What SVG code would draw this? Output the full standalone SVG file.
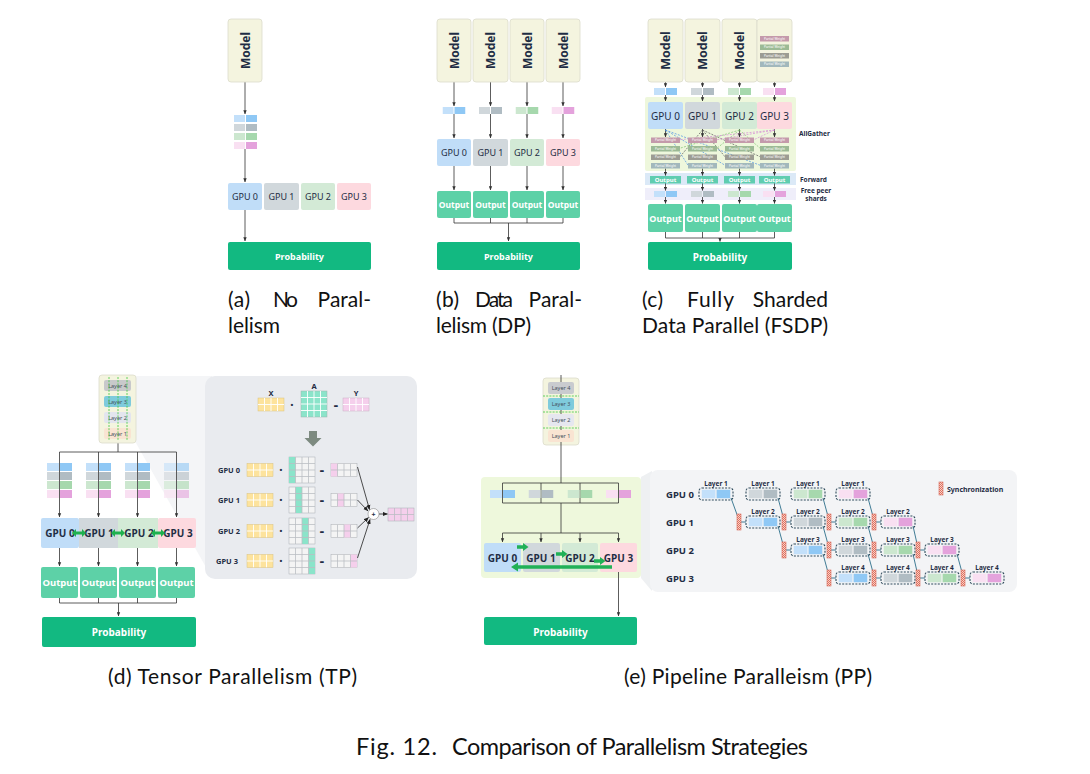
<svg xmlns="http://www.w3.org/2000/svg" xmlns:xlink="http://www.w3.org/1999/xlink" width="1090" height="774" viewBox="0 0 1090 774">
<style>
.model{fill:#f4f4df;stroke:#dcdccb;stroke-width:0.8}
.mt{font-family:"Noto Sans",sans-serif;font-weight:bold;font-size:12px;fill:#1f2d44}
.g0{fill:#c0ddf8}.g1{fill:#d1d8dc}.g2{fill:#d3ead6}.g3{fill:#fdd9df}
.gt{font-family:"Noto Sans",sans-serif;font-size:9px;fill:#1f2d44}
.gtb{font-family:"Noto Sans",sans-serif;font-size:10px;font-weight:bold;fill:#1f2d44}
.out{fill:#5dd1a7}
.ot{font-family:"Noto Sans",sans-serif;font-weight:bold;font-size:8.5px;fill:#fff}
.prob{fill:#12b981}
.pt{font-family:"Noto Sans",sans-serif;font-weight:bold;font-size:9px;fill:#fff}
.ln{stroke:#333;stroke-width:0.8;fill:none}
.lbl{font-family:"Noto Sans",sans-serif;font-weight:bold;font-size:6.5px;fill:#1f2d44}
.lay{font-family:"Noto Sans",sans-serif;font-size:5.5px;fill:#44505c}
.mx{font-family:"Noto Sans",sans-serif;font-weight:bold;font-size:7.5px;fill:#1f2d44}
.sbox{fill:none;stroke:#2f4b5c;stroke-width:1.1;stroke-dasharray:2 1.3}
.sl{font-family:"Noto Sans",sans-serif;font-weight:bold;font-size:6.5px;fill:#1f2d44}
.sg{font-family:"Noto Sans",sans-serif;font-weight:bold;font-size:9.5px;fill:#1f2d44}
.sync{fill:url(#hatch);stroke:#d86a5a;stroke-width:0.6}
.dl{stroke:#2c6e8a;stroke-width:0.9;fill:none}
.cap{font-family:Lato,"Liberation Sans",sans-serif;font-size:21px;fill:#111}
.fig{font-family:Lato,"Liberation Sans",sans-serif;font-size:23.5px;fill:#111}
.pw{font-family:"Noto Sans",sans-serif;font-size:3.2px;fill:#fff}
.ad{fill:none;stroke-width:0.7;stroke-dasharray:2 1.3}
</style>
<defs>
<marker id="ah" viewBox="0 0 6 6" refX="5.5" refY="3" markerWidth="4" markerHeight="4" markerUnits="userSpaceOnUse" orient="auto"><path d="M0 0.5L6 3L0 5.5z" fill="#333"/></marker>
<marker id="ah2" viewBox="0 0 6 6" refX="5.5" refY="3" markerWidth="5" markerHeight="5" markerUnits="userSpaceOnUse" orient="auto"><path d="M0 0.5L6 3L0 5.5z" fill="#222"/></marker>
<pattern id="hatch" width="2" height="2" patternUnits="userSpaceOnUse"><rect width="2" height="2" fill="#f8d2c9"/><rect width="1" height="1" fill="#e0715f"/><rect x="1" y="1" width="1" height="1" fill="#e0715f"/></pattern>
<symbol id="p0" viewBox="0 0 24 8" preserveAspectRatio="none"><rect width="11.5" height="8" fill="#c3e0fa"/><rect x="12.5" width="11.5" height="8" fill="#8fc8f5"/></symbol>
<symbol id="p1" viewBox="0 0 24 8" preserveAspectRatio="none"><rect width="11.5" height="8" fill="#d0d7db"/><rect x="12.5" width="11.5" height="8" fill="#b0bcc3"/></symbol>
<symbol id="p2" viewBox="0 0 24 8" preserveAspectRatio="none"><rect width="11.5" height="8" fill="#cce7cf"/><rect x="12.5" width="11.5" height="8" fill="#a6d8ad"/></symbol>
<symbol id="p3" viewBox="0 0 24 8" preserveAspectRatio="none"><rect width="11.5" height="8" fill="#f9e0f2"/><rect x="12.5" width="11.5" height="8" fill="#e4a2dc"/></symbol>
<symbol id="g42w" viewBox="0 0 4 2" preserveAspectRatio="none"><path d="M1 0V2M2 0V2M3 0V2M0 1H4" stroke="#fff" stroke-width="0.14" fill="none"/></symbol>
<symbol id="g44w" viewBox="0 0 4 4" preserveAspectRatio="none"><path d="M1 0V4M2 0V4M3 0V4M0 1H4M0 2H4M0 3H4" stroke="#fff" stroke-width="0.14" fill="none"/></symbol>
<symbol id="g42g" viewBox="0 0 4 2" preserveAspectRatio="none"><path d="M1 0V2M2 0V2M3 0V2M0 1H4" stroke="#b9bdc2" stroke-width="0.12" fill="none"/></symbol>
<symbol id="g44g" viewBox="0 0 4 4" preserveAspectRatio="none"><path d="M1 0V4M2 0V4M3 0V4M0 1H4M0 2H4M0 3H4" stroke="#b9bdc2" stroke-width="0.12" fill="none"/></symbol>
<g id="pw">
<rect x="0" y="0" width="29" height="5.5" fill="#c49aab"/><text class="pw" x="14.5" y="3.9" text-anchor="middle">Partial Weight</text>
<rect x="0" y="8.5" width="29" height="5.5" fill="#9cba95"/><text class="pw" x="14.5" y="12.4" text-anchor="middle">Partial Weight</text>
<rect x="0" y="17" width="29" height="5.5" fill="#9c9c93"/><text class="pw" x="14.5" y="20.9" text-anchor="middle">Partial Weight</text>
<rect x="0" y="25.5" width="29" height="5.5" fill="#a2b8bc"/><text class="pw" x="14.5" y="29.4" text-anchor="middle">Partial Weight</text>
</g>
</defs>
<rect width="1090" height="774" fill="#fff"/>

<!-- ===== (a) No Parallelism ===== -->
<g id="a-connectors">
<path class="ln" d="M245 82V114" marker-end="url(#ah)"/>
<path class="ln" d="M245 149V182" marker-end="url(#ah)"/>
<path class="ln" d="M245 210V241" marker-end="url(#ah)"/>
</g>
<g id="a-model"><rect class="model" x="228" y="19" width="34" height="63" rx="3"/><text class="mt" transform="translate(245,50.5) rotate(-90)" text-anchor="middle" dominant-baseline="central">Model</text></g>
<g id="a-shards">
<use href="#p0" x="234" y="115" width="23" height="7"/>
<use href="#p1" x="234" y="124" width="23" height="7"/>
<use href="#p2" x="234" y="133" width="23" height="7"/>
<use href="#p3" x="234" y="142" width="23" height="7"/>
</g>
<g id="a-gpu0"><rect class="g0" x="228" y="183" width="34" height="27" rx="2"/><text class="gt" x="245" y="196.5" text-anchor="middle" dominant-baseline="central">GPU 0</text></g>
<g id="a-gpu1"><rect class="g1" x="264" y="183" width="35" height="27" rx="2"/><text class="gt" x="281.5" y="196.5" text-anchor="middle" dominant-baseline="central">GPU 1</text></g>
<g id="a-gpu2"><rect class="g2" x="301" y="183" width="34" height="27" rx="2"/><text class="gt" x="318" y="196.5" text-anchor="middle" dominant-baseline="central">GPU 2</text></g>
<g id="a-gpu3"><rect class="g3" x="337" y="183" width="34" height="27" rx="2"/><text class="gt" x="354" y="196.5" text-anchor="middle" dominant-baseline="central">GPU 3</text></g>
<g id="a-prob"><rect class="prob" x="228" y="242" width="143" height="28" rx="2"/><text class="pt" x="299.5" y="256.5" text-anchor="middle" dominant-baseline="central">Probability</text></g>

<!-- ===== (b) Data Parallelism ===== -->
<g id="b-connectors">
<path class="ln" d="M454 82V106" marker-end="url(#ah)"/><path class="ln" d="M490.5 82V106" marker-end="url(#ah)"/><path class="ln" d="M527 82V106" marker-end="url(#ah)"/><path class="ln" d="M563 82V106" marker-end="url(#ah)"/>
<path class="ln" d="M454 114V138" marker-end="url(#ah)"/><path class="ln" d="M490.5 114V138" marker-end="url(#ah)"/><path class="ln" d="M527 114V138" marker-end="url(#ah)"/><path class="ln" d="M563 114V138" marker-end="url(#ah)"/>
<path class="ln" d="M454 166V190" marker-end="url(#ah)"/><path class="ln" d="M490.5 166V190" marker-end="url(#ah)"/><path class="ln" d="M527 166V190" marker-end="url(#ah)"/><path class="ln" d="M563 166V190" marker-end="url(#ah)"/>
<path class="ln" d="M454 218V223M490.5 218V223M527 218V223M563 218V223M454 223H563"/>
<path class="ln" d="M508.5 223V241" marker-end="url(#ah)"/>
</g>
<g id="b-model0"><rect class="model" x="437" y="19" width="34" height="63" rx="3"/><text class="mt" transform="translate(454,50.5) rotate(-90)" text-anchor="middle" dominant-baseline="central">Model</text></g>
<g id="b-model1"><rect class="model" x="473" y="19" width="35" height="63" rx="3"/><text class="mt" transform="translate(490.5,50.5) rotate(-90)" text-anchor="middle" dominant-baseline="central">Model</text></g>
<g id="b-model2"><rect class="model" x="510" y="19" width="34" height="63" rx="3"/><text class="mt" transform="translate(527,50.5) rotate(-90)" text-anchor="middle" dominant-baseline="central">Model</text></g>
<g id="b-model3"><rect class="model" x="546" y="19" width="34" height="63" rx="3"/><text class="mt" transform="translate(563,50.5) rotate(-90)" text-anchor="middle" dominant-baseline="central">Model</text></g>
<g id="b-shards">
<use href="#p0" x="442.5" y="107" width="23" height="7"/>
<use href="#p1" x="479" y="107" width="23" height="7"/>
<use href="#p2" x="515.5" y="107" width="23" height="7"/>
<use href="#p3" x="551.5" y="107" width="23" height="7"/>
</g>
<g id="b-gpu0"><rect class="g0" x="437" y="139" width="34" height="27" rx="2"/><text class="gt" x="454" y="152.5" text-anchor="middle" dominant-baseline="central">GPU 0</text></g>
<g id="b-gpu1"><rect class="g1" x="473" y="139" width="35" height="27" rx="2"/><text class="gt" x="490.5" y="152.5" text-anchor="middle" dominant-baseline="central">GPU 1</text></g>
<g id="b-gpu2"><rect class="g2" x="510" y="139" width="34" height="27" rx="2"/><text class="gt" x="527" y="152.5" text-anchor="middle" dominant-baseline="central">GPU 2</text></g>
<g id="b-gpu3"><rect class="g3" x="546" y="139" width="34" height="27" rx="2"/><text class="gt" x="563" y="152.5" text-anchor="middle" dominant-baseline="central">GPU 3</text></g>
<g id="b-out0"><rect class="out" x="437" y="191" width="34" height="27" rx="2"/><text class="ot" x="454" y="204.5" text-anchor="middle" dominant-baseline="central">Output</text></g>
<g id="b-out1"><rect class="out" x="473" y="191" width="35" height="27" rx="2"/><text class="ot" x="490.5" y="204.5" text-anchor="middle" dominant-baseline="central">Output</text></g>
<g id="b-out2"><rect class="out" x="510" y="191" width="34" height="27" rx="2"/><text class="ot" x="527" y="204.5" text-anchor="middle" dominant-baseline="central">Output</text></g>
<g id="b-out3"><rect class="out" x="546" y="191" width="34" height="27" rx="2"/><text class="ot" x="563" y="204.5" text-anchor="middle" dominant-baseline="central">Output</text></g>
<g id="b-prob"><rect class="prob" x="437" y="242" width="143" height="28" rx="2"/><text class="pt" x="508.5" y="256.5" text-anchor="middle" dominant-baseline="central">Probability</text></g>

<!-- ===== (c) FSDP ===== -->
<g id="c-bands">
<rect x="645" y="97" width="151" height="74" rx="2" fill="#eef7dc"/>
<rect x="645" y="173" width="151" height="12" fill="#dbe9f7"/>
<rect x="645" y="188" width="151" height="12" fill="#efeefa"/>
</g>
<g id="c-connectors">
<path class="ln" d="M665.5 82V87" marker-end="url(#ah)"/><path class="ln" d="M702.5 82V87" marker-end="url(#ah)"/><path class="ln" d="M739.5 82V87" marker-end="url(#ah)"/><path class="ln" d="M774.5 82V87" marker-end="url(#ah)"/>
<path class="ln" d="M665.5 95V101" marker-end="url(#ah)"/><path class="ln" d="M702.5 95V101" marker-end="url(#ah)"/><path class="ln" d="M739.5 95V101" marker-end="url(#ah)"/><path class="ln" d="M774.5 95V101" marker-end="url(#ah)"/>
<path class="ln" d="M665.5 129V137" marker-end="url(#ah)"/><path class="ln" d="M702.5 129V137" marker-end="url(#ah)"/><path class="ln" d="M739.5 129V137" marker-end="url(#ah)"/><path class="ln" d="M774.5 129V137" marker-end="url(#ah)"/>
<path class="ln" d="M665.5 168.5V175.5" marker-end="url(#ah)"/><path class="ln" d="M702.5 168.5V175.5" marker-end="url(#ah)"/><path class="ln" d="M739.5 168.5V175.5" marker-end="url(#ah)"/><path class="ln" d="M774.5 168.5V175.5" marker-end="url(#ah)"/>
<path class="ln" d="M665.5 183V190.5" marker-end="url(#ah)"/><path class="ln" d="M702.5 183V190.5" marker-end="url(#ah)"/><path class="ln" d="M739.5 183V190.5" marker-end="url(#ah)"/><path class="ln" d="M774.5 183V190.5" marker-end="url(#ah)"/>
<path class="ln" d="M665.5 197V203.5" marker-end="url(#ah)"/><path class="ln" d="M702.5 197V203.5" marker-end="url(#ah)"/><path class="ln" d="M739.5 197V203.5" marker-end="url(#ah)"/><path class="ln" d="M774.5 197V203.5" marker-end="url(#ah)"/>
<path class="ln" d="M665.5 232V238M702.5 232V238M739.5 232V238M774.5 232V238M665.5 238H774.5"/>
<path class="ln" d="M720 238V241.5" marker-end="url(#ah)"/>
<path class="ad" stroke="#4a90e2" d="M665.5 130L688 165.2M665.5 130L725 165.2M665.5 130L760 165.2"/>
<path class="ad" stroke="#555" d="M702.5 130L680 156.7M702.5 130L725 156.7M702.5 130L760 156.7"/>
<path class="ad" stroke="#7cc36e" d="M739.5 130L680 148.2M739.5 130L717 148.2M739.5 130L760 148.2"/>
<path class="ad" stroke="#d58ad6" d="M774.5 130L680 139.7M774.5 130L717 139.7M774.5 130L754 139.7"/>
</g>
<g id="c-model0"><rect class="model" x="648" y="19" width="35" height="63" rx="3"/><text class="mt" style="font-size:12.5px" transform="translate(665.5,50.5) rotate(-90)" text-anchor="middle" dominant-baseline="central">Model</text></g>
<g id="c-model1"><rect class="model" x="685" y="19" width="35" height="63" rx="3"/><text class="mt" style="font-size:12.5px" transform="translate(702.5,50.5) rotate(-90)" text-anchor="middle" dominant-baseline="central">Model</text></g>
<g id="c-model2"><rect class="model" x="722" y="19" width="35" height="63" rx="3"/><text class="mt" style="font-size:12.5px" transform="translate(739.5,50.5) rotate(-90)" text-anchor="middle" dominant-baseline="central">Model</text></g>
<g id="c-model3"><rect class="model" x="757" y="19" width="35" height="63" rx="3"/><use href="#pw" x="760" y="36"/></g>
<g id="c-shards">
<use href="#p0" x="654" y="88" width="23" height="7"/>
<use href="#p1" x="691" y="88" width="23" height="7"/>
<use href="#p2" x="728" y="88" width="23" height="7"/>
<use href="#p3" x="763" y="88" width="23" height="7"/>
</g>
<g id="c-gpu0"><rect class="g0" x="648" y="102" width="35" height="27" rx="2"/><text class="gt" style="font-size:10px" x="665.5" y="115.5" text-anchor="middle" dominant-baseline="central">GPU 0</text></g>
<g id="c-gpu1"><rect class="g1" x="685" y="102" width="35" height="27" rx="2"/><text class="gt" style="font-size:10px" x="702.5" y="115.5" text-anchor="middle" dominant-baseline="central">GPU 1</text></g>
<g id="c-gpu2"><rect class="g2" x="722" y="102" width="35" height="27" rx="2"/><text class="gt" style="font-size:10px" x="739.5" y="115.5" text-anchor="middle" dominant-baseline="central">GPU 2</text></g>
<g id="c-gpu3"><rect class="g3" x="757" y="102" width="35" height="27" rx="2"/><text class="gt" style="font-size:10px" x="774.5" y="115.5" text-anchor="middle" dominant-baseline="central">GPU 3</text></g>
<g id="c-weights">
<use href="#pw" x="651" y="137.5"/><use href="#pw" x="688" y="137.5"/><use href="#pw" x="725" y="137.5"/><use href="#pw" x="760" y="137.5"/>
</g>
<text class="lbl" x="799" y="136">AllGather</text>
<g id="c-fwd">
<rect x="650" y="176" width="31" height="7.5" fill="#5fcdb0"/><text class="ot" style="font-size:6px" x="665.5" y="180" text-anchor="middle" dominant-baseline="central">Output</text>
<rect x="687" y="176" width="31" height="7.5" fill="#5fcdb0"/><text class="ot" style="font-size:6px" x="702.5" y="180" text-anchor="middle" dominant-baseline="central">Output</text>
<rect x="724" y="176" width="31" height="7.5" fill="#5fcdb0"/><text class="ot" style="font-size:6px" x="739.5" y="180" text-anchor="middle" dominant-baseline="central">Output</text>
<rect x="759" y="176" width="31" height="7.5" fill="#5fcdb0"/><text class="ot" style="font-size:6px" x="774.5" y="180" text-anchor="middle" dominant-baseline="central">Output</text>
</g>
<text class="lbl" x="800" y="182">Forward</text>
<g id="c-free">
<use href="#p0" x="654" y="191" width="23" height="6"/>
<use href="#p1" x="691" y="191" width="23" height="6"/>
<use href="#p2" x="728" y="191" width="23" height="6"/>
<use href="#p3" x="763" y="191" width="23" height="6"/>
</g>
<text class="lbl" x="816" y="193" text-anchor="middle">Free peer</text>
<text class="lbl" x="816" y="201" text-anchor="middle">shards</text>
<g id="c-out0"><rect class="out" x="648" y="204" width="35" height="28" rx="2"/><text class="ot" style="font-size:9px" x="665.5" y="218" text-anchor="middle" dominant-baseline="central">Output</text></g>
<g id="c-out1"><rect class="out" x="685" y="204" width="35" height="28" rx="2"/><text class="ot" style="font-size:9px" x="702.5" y="218" text-anchor="middle" dominant-baseline="central">Output</text></g>
<g id="c-out2"><rect class="out" x="722" y="204" width="35" height="28" rx="2"/><text class="ot" style="font-size:9px" x="739.5" y="218" text-anchor="middle" dominant-baseline="central">Output</text></g>
<g id="c-out3"><rect class="out" x="757" y="204" width="35" height="28" rx="2"/><text class="ot" style="font-size:9px" x="774.5" y="218" text-anchor="middle" dominant-baseline="central">Output</text></g>
<g id="c-prob"><rect class="prob" x="648" y="242" width="144" height="28" rx="2"/><text class="pt" style="font-size:10px" x="720" y="256.5" text-anchor="middle" dominant-baseline="central">Probability</text></g>

<!-- ===== (d) Tensor Parallelism ===== -->
<polygon points="136,376 212,376 212,578 136,443" fill="#f4f5f7"/>
<rect x="205" y="376" width="212" height="203" rx="10" fill="#e9ebef"/>
<g id="d-connectors">
<path class="ln" d="M118 443V452M59.5 452H176.5"/>
<path class="ln" d="M59.5 452V517" marker-end="url(#ah)"/><path class="ln" d="M98.5 452V517" marker-end="url(#ah)"/><path class="ln" d="M137.5 452V517" marker-end="url(#ah)"/><path class="ln" d="M176.5 452V517" marker-end="url(#ah)"/>
<path class="ln" d="M59.5 548V566" marker-end="url(#ah)"/><path class="ln" d="M98.5 548V566" marker-end="url(#ah)"/><path class="ln" d="M137.5 548V566" marker-end="url(#ah)"/><path class="ln" d="M176.5 548V566" marker-end="url(#ah)"/>
<path class="ln" d="M59.5 598V603M98.5 598V603M137.5 598V603M176.5 598V603M59.5 603H176.5"/>
<path class="ln" d="M118.5 603V616" marker-end="url(#ah)"/>
</g>
<g id="d-model">
<rect class="model" x="99" y="375" width="37" height="68" rx="3"/>
<rect x="104" y="380" width="27" height="11" rx="2" fill="#c8c9cb"/><text class="lay" x="117.5" y="385.5" text-anchor="middle" dominant-baseline="central">Layer 4</text>
<rect x="104" y="396" width="27" height="11" rx="2" fill="#7fcbdc"/><text class="lay" x="117.5" y="401.5" text-anchor="middle" dominant-baseline="central">Layer 3</text>
<rect x="104" y="412" width="27" height="11" rx="2" fill="#e3e5ee"/><text class="lay" x="117.5" y="417.5" text-anchor="middle" dominant-baseline="central">Layer 2</text>
<rect x="104" y="428" width="27" height="11" rx="2" fill="#f9e4d2"/><text class="lay" x="117.5" y="433.5" text-anchor="middle" dominant-baseline="central">Layer 1</text>
<path d="M109 377V441M118 377V441M127 377V441" stroke="#3ccc3c" stroke-width="0.8" stroke-dasharray="2 1.2"/>
</g>
<g id="d-shards0"><use href="#p0" x="47" y="463" width="25" height="8"/><use href="#p1" x="47" y="472" width="25" height="8"/><use href="#p2" x="47" y="481" width="25" height="8"/><use href="#p3" x="47" y="490" width="25" height="8"/></g>
<g id="d-shards1"><use href="#p0" x="86" y="463" width="25" height="8"/><use href="#p1" x="86" y="472" width="25" height="8"/><use href="#p2" x="86" y="481" width="25" height="8"/><use href="#p3" x="86" y="490" width="25" height="8"/></g>
<g id="d-shards2"><use href="#p0" x="125" y="463" width="25" height="8"/><use href="#p1" x="125" y="472" width="25" height="8"/><use href="#p2" x="125" y="481" width="25" height="8"/><use href="#p3" x="125" y="490" width="25" height="8"/></g>
<g id="d-shards3" opacity="0.6"><use href="#p0" x="164" y="463" width="25" height="8"/><use href="#p1" x="164" y="472" width="25" height="8"/><use href="#p2" x="164" y="481" width="25" height="8"/><use href="#p3" x="164" y="490" width="25" height="8"/></g>
<g id="d-gpu0"><rect class="g0" x="41" y="518" width="38" height="30" rx="2"/><text class="gtb" x="60" y="533" text-anchor="middle" dominant-baseline="central">GPU 0</text></g>
<g id="d-gpu1"><rect class="g1" x="79" y="518" width="39" height="30"/><text class="gtb" x="99" y="533" text-anchor="middle" dominant-baseline="central">GPU 1</text></g>
<g id="d-gpu2"><rect class="g2" x="118" y="518" width="40" height="30"/><text class="gtb" x="139" y="533" text-anchor="middle" dominant-baseline="central">GPU 2</text></g>
<g id="d-gpu3"><rect class="g3" x="158" y="518" width="38" height="30" rx="2"/><text class="gtb" x="178" y="533" text-anchor="middle" dominant-baseline="central">GPU 3</text></g>
<g id="d-links" fill="#1fb14f">
<path d="M72 533L76 529V531.5H82V529L86 533L82 537V534.5H76V537Z"/>
<path d="M111 533L115 529V531.5H121V529L125 533L121 537V534.5H115V537Z"/>
<path d="M151 533L155 529V531.5H161V529L165 533L161 537V534.5H155V537Z"/>
</g>
<g id="d-out0"><rect class="out" x="41" y="567" width="37" height="31" rx="2"/><text class="ot" style="font-size:9.5px" x="59.5" y="582.5" text-anchor="middle" dominant-baseline="central">Output</text></g>
<g id="d-out1"><rect class="out" x="80" y="567" width="37" height="31" rx="2"/><text class="ot" style="font-size:9.5px" x="98.5" y="582.5" text-anchor="middle" dominant-baseline="central">Output</text></g>
<g id="d-out2"><rect class="out" x="119" y="567" width="37" height="31" rx="2"/><text class="ot" style="font-size:9.5px" x="137.5" y="582.5" text-anchor="middle" dominant-baseline="central">Output</text></g>
<g id="d-out3"><rect class="out" x="158" y="567" width="37" height="31" rx="2"/><text class="ot" style="font-size:9.5px" x="176.5" y="582.5" text-anchor="middle" dominant-baseline="central">Output</text></g>
<g id="d-prob"><rect class="prob" x="42" y="617" width="154" height="30" rx="2"/><text class="pt" style="font-size:10px" x="119" y="632" text-anchor="middle" dominant-baseline="central">Probability</text></g>

<!-- TP detail -->
<g id="tp-equation">
<text class="mx" x="271" y="396" text-anchor="middle">X</text>
<text class="mx" x="314" y="389" text-anchor="middle">A</text>
<text class="mx" x="356" y="396" text-anchor="middle">Y</text>
<rect x="258" y="398" width="26" height="13" fill="#fde39d" stroke="#d9c27f" stroke-width="0.5"/><use href="#g42w" x="258" y="398" width="26" height="13"/>
<text class="mx" x="292" y="405" text-anchor="middle" dominant-baseline="central">•</text>
<rect x="301" y="391" width="26" height="26" fill="#8be4ca" stroke="#9fb3ad" stroke-width="0.5"/><use href="#g44w" x="301" y="391" width="26" height="26"/>
<text class="mx" x="336" y="405" text-anchor="middle" dominant-baseline="central">=</text>
<rect x="343" y="398" width="26" height="13" fill="#f5cfec" stroke="#c9b0c4" stroke-width="0.5"/><use href="#g42w" x="343" y="398" width="26" height="13"/>
<path d="M309 431H317V438H321.5L313 446.5L304.5 438H309Z" fill="#7d8a80"/>
</g>
<g id="tp-gpu0">
<text class="mx" x="218" y="470" dominant-baseline="central">GPU 0</text>
<rect x="247" y="463.5" width="26" height="13" fill="#fde39d" stroke="#d9c27f" stroke-width="0.5"/><use href="#g42w" x="247" y="463.5" width="26" height="13"/>
<text class="mx" x="281" y="470" text-anchor="middle" dominant-baseline="central">•</text>
<rect x="289" y="457" width="26" height="26" fill="#f4f4f4" stroke="#a9adb2" stroke-width="0.5"/><rect x="289" y="457" width="6.5" height="26" fill="#8be4ca"/><use href="#g44g" x="289" y="457" width="26" height="26"/>
<text class="mx" x="322" y="470" text-anchor="middle" dominant-baseline="central">=</text>
<rect x="331" y="463.5" width="26" height="13" fill="#f4f4f4" stroke="#a9adb2" stroke-width="0.5"/><rect x="331" y="463.5" width="6.5" height="13" fill="#f5cfec"/><use href="#g42g" x="331" y="463.5" width="26" height="13"/>
</g>
<g id="tp-gpu1">
<text class="mx" x="218" y="500" dominant-baseline="central">GPU 1</text>
<rect x="247" y="493.5" width="26" height="13" fill="#fde39d" stroke="#d9c27f" stroke-width="0.5"/><use href="#g42w" x="247" y="493.5" width="26" height="13"/>
<text class="mx" x="281" y="500" text-anchor="middle" dominant-baseline="central">•</text>
<rect x="289" y="487" width="26" height="26" fill="#f4f4f4" stroke="#a9adb2" stroke-width="0.5"/><rect x="295.5" y="487" width="6.5" height="26" fill="#8be4ca"/><use href="#g44g" x="289" y="487" width="26" height="26"/>
<text class="mx" x="322" y="500" text-anchor="middle" dominant-baseline="central">=</text>
<rect x="331" y="493.5" width="26" height="13" fill="#f4f4f4" stroke="#a9adb2" stroke-width="0.5"/><rect x="337.5" y="493.5" width="6.5" height="13" fill="#f5cfec"/><use href="#g42g" x="331" y="493.5" width="26" height="13"/>
</g>
<g id="tp-gpu2">
<text class="mx" x="218" y="531" dominant-baseline="central">GPU 2</text>
<rect x="247" y="524.5" width="26" height="13" fill="#fde39d" stroke="#d9c27f" stroke-width="0.5"/><use href="#g42w" x="247" y="524.5" width="26" height="13"/>
<text class="mx" x="281" y="531" text-anchor="middle" dominant-baseline="central">•</text>
<rect x="289" y="518" width="26" height="26" fill="#f4f4f4" stroke="#a9adb2" stroke-width="0.5"/><rect x="302" y="518" width="6.5" height="26" fill="#8be4ca"/><use href="#g44g" x="289" y="518" width="26" height="26"/>
<text class="mx" x="322" y="531" text-anchor="middle" dominant-baseline="central">=</text>
<rect x="331" y="524.5" width="26" height="13" fill="#f4f4f4" stroke="#a9adb2" stroke-width="0.5"/><rect x="344" y="524.5" width="6.5" height="13" fill="#f5cfec"/><use href="#g42g" x="331" y="524.5" width="26" height="13"/>
</g>
<g id="tp-gpu3">
<text class="mx" x="216" y="561" dominant-baseline="central">GPU 3</text>
<rect x="247" y="554.5" width="26" height="13" fill="#fde39d" stroke="#d9c27f" stroke-width="0.5"/><use href="#g42w" x="247" y="554.5" width="26" height="13"/>
<text class="mx" x="281" y="561" text-anchor="middle" dominant-baseline="central">•</text>
<rect x="289" y="548" width="26" height="26" fill="#f4f4f4" stroke="#a9adb2" stroke-width="0.5"/><rect x="308.5" y="548" width="6.5" height="26" fill="#8be4ca"/><use href="#g44g" x="289" y="548" width="26" height="26"/>
<text class="mx" x="322" y="561" text-anchor="middle" dominant-baseline="central">=</text>
<rect x="331" y="554.5" width="26" height="13" fill="#f4f4f4" stroke="#a9adb2" stroke-width="0.5"/><rect x="350.5" y="554.5" width="6.5" height="13" fill="#f5cfec"/><use href="#g42g" x="331" y="554.5" width="26" height="13"/>
</g>
<g id="tp-connectors" stroke="#222" stroke-width="0.8" fill="none">
<path d="M357.5 467L369.5 509.5" marker-end="url(#ah2)"/>
<path d="M357.5 500L368 511" marker-end="url(#ah2)"/>
<path d="M357.5 528L368.5 517.5" marker-end="url(#ah2)"/>
<path d="M357.5 558L370 519.5" marker-end="url(#ah2)"/>
<path d="M379 514H387.5" marker-end="url(#ah2)"/>
</g>
<g id="tp-sum"><circle cx="373.5" cy="514" r="5.5" fill="#fff" stroke="#888" stroke-width="0.6"/><text class="mx" style="font-size:7px" x="373.5" y="514" text-anchor="middle" dominant-baseline="central">+</text></g>
<g id="tp-result"><rect x="388" y="508" width="26" height="13" fill="#f5cfec" stroke="#a9adb2" stroke-width="0.5"/><use href="#g42g" x="388" y="508" width="26" height="13"/></g>

<!-- ===== (e) Pipeline Parallelism ===== -->
<polygon points="641,477 652,471 652,591 641,578" fill="#eef0f2"/>
<rect x="650" y="470" width="367" height="122" rx="8" fill="#f3f4f6"/>
<rect x="481" y="477" width="160" height="101" rx="4" fill="#eef8dc"/>
<g id="e-model">
<rect class="model" x="543" y="378" width="36" height="67" rx="3"/>
<path class="ln" d="M561 375V483" stroke="#555"/>
<rect x="548" y="382" width="26" height="12" rx="2" fill="#c9cbcf"/><text class="lay" x="561" y="388" text-anchor="middle" dominant-baseline="central">Layer 4</text>
<rect x="548" y="398" width="26" height="12" rx="2" fill="#7fcbdc"/><text class="lay" x="561" y="404" text-anchor="middle" dominant-baseline="central">Layer 3</text>
<rect x="548" y="414" width="26" height="12" rx="2" fill="#e6e7ef"/><text class="lay" x="561" y="420" text-anchor="middle" dominant-baseline="central">Layer 2</text>
<rect x="548" y="430" width="26" height="12" rx="2" fill="#f9e4d2"/><text class="lay" x="561" y="436" text-anchor="middle" dominant-baseline="central">Layer 1</text>
<path d="M543 396H579M543 412H579M543 428H579" stroke="#3ccc3c" stroke-width="0.8" stroke-dasharray="2 1.2"/>
</g>
<g id="e-connectors">
<path class="ln" d="M502.5 483H618.5V503H502.5ZM541 483V503M580 483V503"/>
<path class="ln" d="M561 503V533M502.5 533H618.5"/>
<path class="ln" d="M502.5 533V542" marker-end="url(#ah)"/><path class="ln" d="M541 533V542" marker-end="url(#ah)"/><path class="ln" d="M580 533V542" marker-end="url(#ah)"/><path class="ln" d="M618.5 533V542" marker-end="url(#ah)"/>
<path class="ln" d="M618.5 572V616" marker-end="url(#ah)"/>
</g>
<g id="e-shards">
<use href="#p0" x="490" y="490" width="25" height="8"/>
<use href="#p1" x="528.5" y="490" width="25" height="8"/>
<use href="#p2" x="567.5" y="490" width="25" height="8"/>
<use href="#p3" x="606" y="490" width="25" height="8"/>
</g>
<g id="e-gpu0"><rect class="g0" x="484" y="543" width="37" height="29" rx="2"/><text class="gtb" x="502.5" y="557.5" text-anchor="middle" dominant-baseline="central">GPU 0</text></g>
<g id="e-gpu1"><rect class="g1" x="523" y="543" width="37" height="29" rx="2"/><text class="gtb" x="541" y="557.5" text-anchor="middle" dominant-baseline="central">GPU 1</text></g>
<g id="e-gpu2"><rect class="g2" x="562" y="543" width="36" height="29" rx="2"/><text class="gtb" x="580" y="557.5" text-anchor="middle" dominant-baseline="central">GPU 2</text></g>
<g id="e-gpu3"><rect class="g3" x="600" y="543" width="37" height="29" rx="2"/><text class="gtb" x="618.5" y="557.5" text-anchor="middle" dominant-baseline="central">GPU 3</text></g>
<g id="e-flow" fill="#20b157">
<path d="M517 545.3H523V543L528.5 547L523 551V548.7H517Z"/>
<path d="M556 552.3H562V550L567.5 554L562 558V555.7H556Z"/>
<path d="M594 559.3H600V557L605.5 561L600 565V562.7H594Z"/>
<path d="M612 565.2H518V562.5L511 567L518 571.5V568.8H612Z"/>
</g>
<g id="e-prob"><rect class="prob" x="484" y="617" width="153" height="28" rx="2"/><text class="pt" style="font-size:10px" x="560.5" y="631.5" text-anchor="middle" dominant-baseline="central">Probability</text></g>

<!-- schedule -->
<g id="sched-labels">
<text class="sg" x="666" y="494" dominant-baseline="central">GPU 0</text>
<text class="sg" x="666" y="522" dominant-baseline="central">GPU 1</text>
<text class="sg" x="666" y="550" dominant-baseline="central">GPU 2</text>
<text class="sg" x="666" y="578" dominant-baseline="central">GPU 3</text>
</g>
<g id="sched-connectors">
<path class="dl" d="M731 498L739 520M778 498L784 520M823 498L829 520M868 498L874 520"/>
<path class="dl" d="M778 526L784 548M823 526L829 548M868 526L874 548M913 526L918 548"/>
<path class="dl" d="M823 554L829 576M868 554L874 576M913 554L918 576M957 554L963 576"/>
<path class="dl" d="M741 522H746M786 522H791M831 522H836M876 522H881M786 550H791M831 550H836M876 550H881M920 550H925M831 578H836M876 578H881M920 578H925M965 578H970"/>
</g>
<g id="sched-r0">
<rect class="sbox" x="699" y="488" width="34" height="12" rx="3"/><use href="#p0" x="701.5" y="489.5" width="29" height="9"/><text class="sl" x="716" y="485.5" text-anchor="middle">Layer 1</text>
<rect class="sbox" x="746" y="488" width="34" height="12" rx="3"/><use href="#p1" x="748.5" y="489.5" width="29" height="9"/><text class="sl" x="763" y="485.5" text-anchor="middle">Layer 1</text>
<rect class="sbox" x="791" y="488" width="34" height="12" rx="3"/><use href="#p2" x="793.5" y="489.5" width="29" height="9"/><text class="sl" x="808" y="485.5" text-anchor="middle">Layer 1</text>
<rect class="sbox" x="836" y="488" width="34" height="12" rx="3"/><use href="#p3" x="838.5" y="489.5" width="29" height="9"/><text class="sl" x="853" y="485.5" text-anchor="middle">Layer 1</text>
</g>
<g id="sched-r1">
<rect class="sync" x="737" y="514" width="4" height="16"/><rect class="sbox" x="746" y="516" width="34" height="12" rx="3"/><use href="#p0" x="748.5" y="517.5" width="29" height="9"/><text class="sl" x="763" y="513.5" text-anchor="middle">Layer 2</text>
<rect class="sync" x="782" y="514" width="4" height="16"/><rect class="sbox" x="791" y="516" width="34" height="12" rx="3"/><use href="#p1" x="793.5" y="517.5" width="29" height="9"/><text class="sl" x="808" y="513.5" text-anchor="middle">Layer 2</text>
<rect class="sync" x="827" y="514" width="4" height="16"/><rect class="sbox" x="836" y="516" width="34" height="12" rx="3"/><use href="#p2" x="838.5" y="517.5" width="29" height="9"/><text class="sl" x="853" y="513.5" text-anchor="middle">Layer 2</text>
<rect class="sync" x="872" y="514" width="4" height="16"/><rect class="sbox" x="881" y="516" width="34" height="12" rx="3"/><use href="#p3" x="883.5" y="517.5" width="29" height="9"/><text class="sl" x="898" y="513.5" text-anchor="middle">Layer 2</text>
</g>
<g id="sched-r2">
<rect class="sync" x="782" y="542" width="4" height="16"/><rect class="sbox" x="791" y="544" width="34" height="12" rx="3"/><use href="#p0" x="793.5" y="545.5" width="29" height="9"/><text class="sl" x="808" y="541.5" text-anchor="middle">Layer 3</text>
<rect class="sync" x="827" y="542" width="4" height="16"/><rect class="sbox" x="836" y="544" width="34" height="12" rx="3"/><use href="#p1" x="838.5" y="545.5" width="29" height="9"/><text class="sl" x="853" y="541.5" text-anchor="middle">Layer 3</text>
<rect class="sync" x="872" y="542" width="4" height="16"/><rect class="sbox" x="881" y="544" width="34" height="12" rx="3"/><use href="#p2" x="883.5" y="545.5" width="29" height="9"/><text class="sl" x="898" y="541.5" text-anchor="middle">Layer 3</text>
<rect class="sync" x="916" y="542" width="4" height="16"/><rect class="sbox" x="925" y="544" width="34" height="12" rx="3"/><use href="#p3" x="927.5" y="545.5" width="29" height="9"/><text class="sl" x="942" y="541.5" text-anchor="middle">Layer 3</text>
</g>
<g id="sched-r3">
<rect class="sync" x="827" y="570" width="4" height="16"/><rect class="sbox" x="836" y="572" width="34" height="12" rx="3"/><use href="#p0" x="838.5" y="573.5" width="29" height="9"/><text class="sl" x="853" y="569.5" text-anchor="middle">Layer 4</text>
<rect class="sync" x="872" y="570" width="4" height="16"/><rect class="sbox" x="881" y="572" width="34" height="12" rx="3"/><use href="#p1" x="883.5" y="573.5" width="29" height="9"/><text class="sl" x="898" y="569.5" text-anchor="middle">Layer 4</text>
<rect class="sync" x="916" y="570" width="4" height="16"/><rect class="sbox" x="925" y="572" width="34" height="12" rx="3"/><use href="#p2" x="927.5" y="573.5" width="29" height="9"/><text class="sl" x="942" y="569.5" text-anchor="middle">Layer 4</text>
<rect class="sync" x="961" y="570" width="4" height="16"/><rect class="sbox" x="970" y="572" width="34" height="12" rx="3"/><use href="#p3" x="972.5" y="573.5" width="29" height="9"/><text class="sl" x="987" y="569.5" text-anchor="middle">Layer 4</text>
</g>
<g id="sched-legend"><rect class="sync" x="939" y="482" width="4" height="13"/><text class="sl" style="font-size:7px" x="947" y="489" dominant-baseline="central">Synchronization</text></g>

<!-- captions -->
<g id="captions">
<text class="cap" x="228" y="307" textLength="22">(a)</text><text class="cap" x="273" y="307" textLength="25">No</text><text class="cap" x="371" y="307" text-anchor="end">Paral-</text>
<text class="cap" x="228" y="333" textLength="52">lelism</text>
<text class="cap" x="436" y="307" textLength="23">(b)</text><text class="cap" x="475" y="307" textLength="38">Data</text><text class="cap" x="582" y="307" text-anchor="end">Paral-</text>
<text class="cap" x="436" y="333" textLength="95">lelism (DP)</text>
<text class="cap" x="642" y="307" textLength="21">(c)</text><text class="cap" x="687" y="307" textLength="47">Fully</text><text class="cap" x="828" y="307" text-anchor="end">Sharded</text>
<text class="cap" x="642" y="333" textLength="186">Data Parallel (FSDP)</text>
<text class="cap" x="108" y="684" textLength="249">(d) Tensor Parallelism (TP)</text>
<text class="cap" x="624" y="684" textLength="248">(e) Pipeline Paralleism (PP)</text>
<text class="fig" x="356" y="755" textLength="81">Fig. 12.</text>
<text class="fig" x="452" y="755" textLength="356">Comparison of Parallelism Strategies</text>
</g>
</svg>
